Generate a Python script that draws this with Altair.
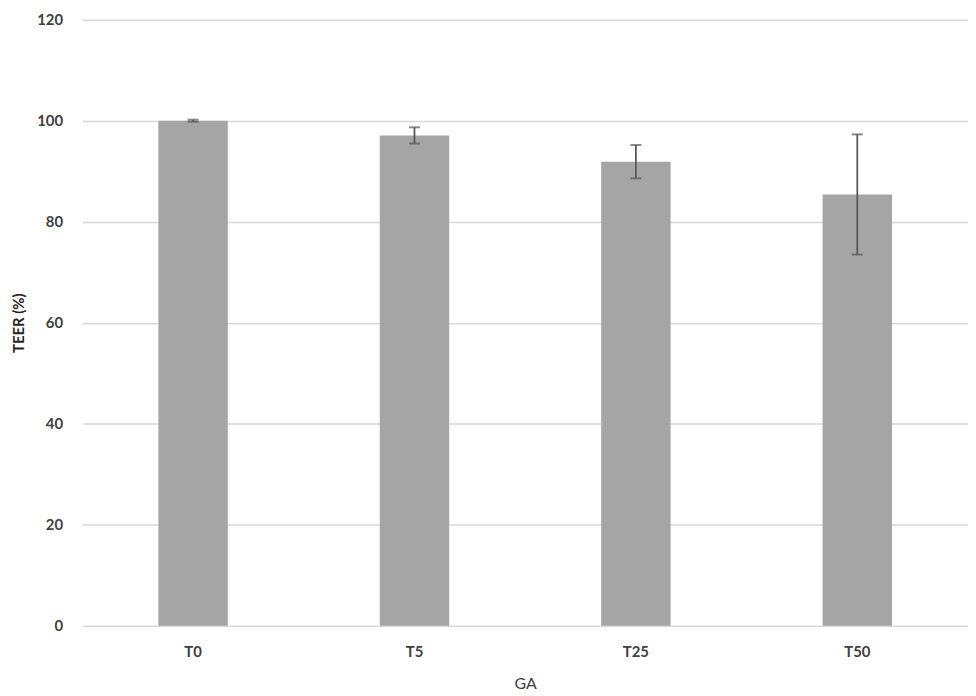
import altair as alt
import pandas as pd

categories = ["T0", "T5", "T25", "T50"]
teer = [100.0, 97.1, 91.9, 85.4]
err = [0.2, 1.6, 3.3, 11.9]

df = pd.DataFrame({
    "GA": categories,
    "TEER": teer,
    "lo": [v - e for v, e in zip(teer, err)],
    "hi": [v + e for v, e in zip(teer, err)],
})

FONT = "Lato"
x = alt.X("GA:N", sort=categories, title="GA",
          scale=alt.Scale(paddingInner=0, paddingOuter=0),
          axis=alt.Axis(labelAngle=0, ticks=False, domain=False, labelPadding=19,
                        labelFontSize=15, labelColor="#404040", labelFontWeight="bold",
                        titleFontSize=16, titleColor="#404040", titleFontWeight="normal",
                        titlePadding=16, labelFont=FONT, titleFont=FONT))

base = alt.Chart(df)

bars = base.mark_bar(color="#A5A5A5", size=70).encode(
    x=x,
    y=alt.Y("TEER:Q", title="TEER (%)",
            scale=alt.Scale(domain=[0, 120], nice=False),
            axis=alt.Axis(values=[0, 20, 40, 60, 80, 100, 120], ticks=False, domain=False,
                          gridColor="#D9D9D9", gridWidth=1.5, labelPadding=20,
                          labelFontSize=15, labelColor="#404040", labelFontWeight="bold",
                          titleFontSize=15, titleColor="#262626", titleFontWeight="bold",
                          titlePadding=10, labelFont=FONT, titleFont=FONT)),
)

rules = base.mark_rule(color="#595959", strokeWidth=1.8).encode(
    x=alt.X("GA:N", sort=categories),
    y="lo:Q",
    y2="hi:Q",
)

cap_lo = base.mark_tick(color="#595959", size=11, thickness=2).encode(
    x=alt.X("GA:N", sort=categories), y="lo:Q")
cap_hi = base.mark_tick(color="#595959", size=11, thickness=2).encode(
    x=alt.X("GA:N", sort=categories), y="hi:Q")

chart = alt.layer(bars, rules, cap_lo, cap_hi).properties(
    width=893, height=611,
    autosize=alt.AutoSizeParams(type="none"),
    padding={"left": 75, "top": 9, "right": 0, "bottom": 64},
).configure_view(stroke=None)

chart.save("out.html", embed_options={"renderer": "svg", "actions": False})
